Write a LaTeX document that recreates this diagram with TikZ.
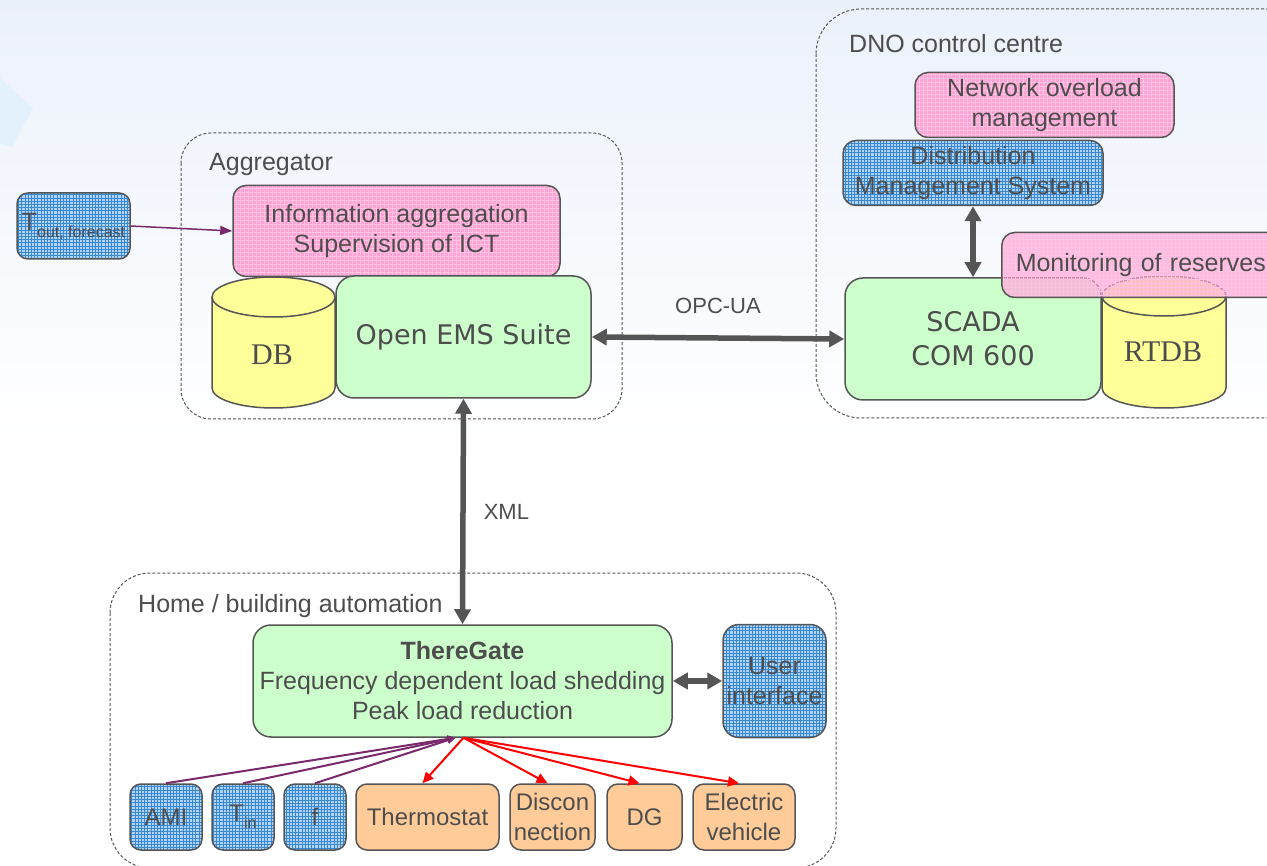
\documentclass[tikz,border=0pt]{standalone}
\usepackage{fontspec}
\setmainfont{Liberation Sans}
\newfontfamily\verdanafont{DejaVu Sans}
\newfontfamily\timesfont{Liberation Serif}
\usepackage{tikz}
\usetikzlibrary{arrows.meta, calc, positioning}
\usepackage{xcolor}
\definecolor{textgray}{HTML}{4D4D4D}
\definecolor{linegray}{HTML}{555555}
\definecolor{boxgreen}{HTML}{CCFFCC}
\definecolor{boxpink}{HTML}{FFA4D4}
\definecolor{gridpink}{HTML}{FFC2E2}
\definecolor{boxblue}{HTML}{B0D4F2}
\definecolor{gridblue}{HTML}{3A88D0}
\definecolor{boxorange}{HTML}{FFCC99}
\definecolor{dbyellow}{HTML}{FFFF99}
\definecolor{linkpurple}{HTML}{7A2A6A}
\definecolor{skyblue}{HTML}{EBF1FB}
\definecolor{kiteblue}{HTML}{E2F1FC}
\newcommand{\txtsize}{\fontsize{25}{30}\selectfont}
\newcommand{\rowsize}{\fontsize{24}{30}\selectfont}
\newcommand{\linksize}{\fontsize{22}{26}\selectfont}
\newcommand{\emssize}{\verdanafont\fontsize{27}{34}\selectfont}
\newcommand{\dbsize}{\timesfont\fontsize{30}{30}\selectfont}

\tikzset{
  unitbox/.style={draw=linegray, line width=1.5, rounded corners=13, align=center,
    text=textgray, font=\txtsize, inner sep=2},
  greenbox/.style={unitbox, fill=boxgreen, rounded corners=18},
  orangebox/.style={unitbox, fill=boxorange, font=\rowsize, rounded corners=11,
    minimum height=66},
  pinkbox/.style={unitbox, fill=boxpink, path picture={
    \draw[gridpink, line width=0.6, step=4pt]
      (path picture bounding box.south west) grid (path picture bounding box.north east);}},
  bluebox/.style={unitbox, fill=boxblue, path picture={
    \draw[gridblue, line width=0.8, step=3.2pt]
      (path picture bounding box.south west) grid (path picture bounding box.north east);}},
  sensorbox/.style={bluebox, font=\rowsize, rounded corners=11, minimum height=66},
  area/.style={draw=linegray, dash pattern=on 3pt off 2pt, line width=1},
  arealabel/.style={text=textgray, font=\txtsize, anchor=base west, inner sep=0},
  linklabel/.style={text=textgray, font=\linksize, inner sep=0},
  drum/.style={draw=linegray, line width=1.5, fill=dbyellow},
  biarrow/.style={{Triangle[length=15pt,width=16pt]}-{Triangle[length=15pt,width=16pt]},
    line width=5.5, draw=linegray},
  readlink/.style={-{Triangle[length=8pt,width=7pt]}, draw=linkpurple, line width=2},
  cmdlink/.style={-{Triangle[length=11pt,width=10pt]}, draw=red, line width=2},
}

\begin{document}
\begin{tikzpicture}[x=1pt, y=-1pt]
    \path[use as bounding box, clip] (0,0) rectangle (1267,866);

    % Background
    \fill[white] (0,0) rectangle (1267,866);
    \shade[top color=skyblue, bottom color=white] (0,0) rectangle (1267,440);
    \fill[kiteblue] (0,78) -- (33,108) -- (12,147) -- (0,144) -- cycle;

    % Areas
    \draw[area, rounded corners=30] (181,133) rectangle (622,419);
    \draw[area, rounded corners=45] (816,9) rectangle (1310,418);
    \draw[area, rounded corners=40] (110,573) rectangle (836,868);
    \node[arealabel] (agglabel) at (209,171) {Aggregator};
    \node[arealabel] (dnolabel) at (849,53) {DNO control centre};
    \node[arealabel] (homelabel) at (138,612) {Home / building automation};

    % Aggregator
    \node[pinkbox, minimum width=327, minimum height=91] (info) at (396.5,231)
        {Information aggregation\\Supervision of ICT};
    \filldraw[drum] (212,297) -- (212,388) arc[start angle=180, end angle=0, x radius=61.5, y radius=20]
        -- (335,297) arc[start angle=0, end angle=-180, x radius=61.5, y radius=20] -- cycle;
    \draw[drum, fill=none] (212,297) arc[start angle=180, end angle=0, x radius=61.5, y radius=20];
    \node[text=textgray, font=\dbsize] (db) at (272,355) {DB};
    \node[greenbox, minimum width=255, minimum height=122, font=\emssize] (ems) at (463.5,337)
        {\raisebox{-5pt}{Open EMS Suite}};
    \node[bluebox, minimum width=113, minimum height=66, rounded corners=11] (tout) at (73.5,226)
        {T\raisebox{-7pt}{\fontsize{16}{16}\selectfont out, forecast}};

    % DNO control centre
    \node[pinkbox, minimum width=259, minimum height=65] (overload) at (1044.5,105)
        {Network overload\\management};
    \node[bluebox, minimum width=260, minimum height=65] (dms) at (973,173)
        {Distribution\\Management System};
    \node[greenbox, minimum width=256, minimum height=122, font=\emssize] (scada) at (973,339)
        {SCADA\\COM 600};
    \filldraw[drum] (1102,296) -- (1102,388) arc[start angle=180, end angle=0, x radius=62, y radius=20]
        -- (1226,296) arc[start angle=0, end angle=-180, x radius=62, y radius=20] -- cycle;
    \draw[drum, fill=none] (1102,296) arc[start angle=180, end angle=0, x radius=62, y radius=20];
    \node[text=textgray, font=\dbsize] (rtdb) at (1163,352) {RTDB};
    \node[pinkbox, anchor=west, text width=270, inner xsep=14, minimum height=65, align=left,
        fill opacity=0.7, text opacity=1] (reserves) at (1001,265) {Monitoring of reserves};

    % Home / building automation
    \node[greenbox, minimum width=419, minimum height=112] (tg) at (462.5,681)
        {\bfseries ThereGate\\Frequency dependent load shedding\\Peak load reduction};
    \node[bluebox, minimum width=103, minimum height=113, rounded corners=16] (ui) at (774.5,681)
        {User\\interface};
    \node[sensorbox, minimum width=72] (ami) at (166,817) {AMI};
    \node[sensorbox, minimum width=62, right=8.5pt of ami] (tin)
        {T\raisebox{-7pt}{\fontsize{16}{16}\selectfont in}};
    \node[sensorbox, minimum width=62, right=8.5pt of tin] (freq) {f};
    \node[orangebox, minimum width=143, right=8.5pt of freq] (thermo) {Thermostat};
    \node[orangebox, minimum width=85, right=9.5pt of thermo] (discon) {Discon\\nection};
    \node[orangebox, minimum width=75, right=10.5pt of discon] (dg) {DG};
    \node[orangebox, minimum width=102, right=9.5pt of dg] (ev) {Electric\\vehicle};

    % Links
    \draw[-{Triangle[length=12pt,width=9pt]}, draw=linkpurple, line width=1.5] (tout.east) -- (info.west);
    \draw[biarrow] (ems.east) -- (scada.west) node[linklabel, midway, above=22pt] (opc) {OPC-UA};
    \draw[biarrow] (ems.south) -- (tg.north) node[linklabel, midway, right=18pt] (xml) {XML};
    \draw[biarrow] (dms.south) -- (scada.north);
    \draw[biarrow] (tg.east) -- (ui.west);

    \coordinate (tgin) at ($(tg.south)+(-7,0)$);
    \coordinate (tgout) at ($(tg.south)+(1,0)$);
    \foreach \s in {ami,tin,freq}
        \draw[readlink] (\s.north) -- (tgin);
    \foreach \a in {thermo,discon,dg,ev}
        \draw[cmdlink] (tgout) -- ([xshift=-5pt]\a.north);
\end{tikzpicture}
\end{document}
